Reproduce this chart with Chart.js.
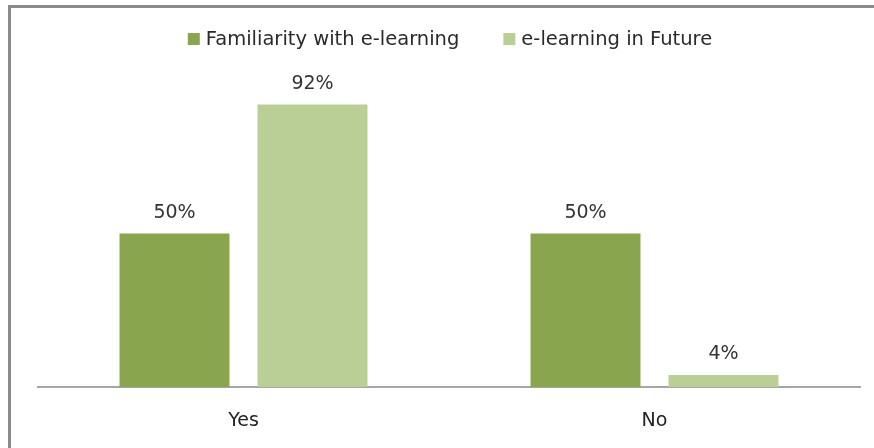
<!DOCTYPE html>
<html lang="en">

<head>
    <meta charset="UTF-8">
    <script src="https://cdn.jsdelivr.net/npm/chart.js"></script>
    <title>e-learning</title>
    <style>
        body { margin: 0; background: #fff; }
        #frame {
            position: absolute; left: 8px; top: 5px; width: 900px; height: 460px;
            border-left: 3px solid #8a8a8a; border-top: 3px solid #8a8a8a;
        }
        #wrap { position: absolute; left: 0; top: 0; width: 874px; height: 448px; }
    </style>
</head>

<body>
    <div id="frame"></div>
    <div id="wrap">
        <canvas id="grafico"></canvas>
    </div>
</body>

</html>
<script>
    const categorias = ['Yes', 'No'];
    const familiaridade = [50, 50];
    const futuro = [92, 4];

    // writes the value above each bar
    const rotulos = {
        id: 'rotulos',
        afterDatasetsDraw(chart) {
            const ctx = chart.ctx;
            ctx.save();
            ctx.font = '19px "DejaVu Sans"';
            ctx.fillStyle = '#333';
            ctx.textAlign = 'center';
            ctx.textBaseline = 'middle';
            chart.data.datasets.forEach(function (ds, i) {
                chart.getDatasetMeta(i).data.forEach(function (bar, j) {
                    ctx.fillText(ds.data[j] + '%', bar.x, bar.y - 21);
                });
            });
            ctx.restore();
        }
    };

    // legend drawn by hand so the spacing matches the original
    const legenda = {
        id: 'legenda',
        afterDraw(chart) {
            const ctx = chart.ctx;
            const caixa = 12, folga = 6, entre = 44;
            ctx.save();
            ctx.font = '19.5px "DejaVu Sans"';
            ctx.textBaseline = 'middle';
            ctx.textAlign = 'left';
            const larguras = chart.data.datasets.map(ds => caixa + folga + ctx.measureText(ds.label).width);
            const total = larguras.reduce((a, b) => a + b, 0) + entre * (larguras.length - 1);
            let x = (chart.chartArea.left + chart.chartArea.right) / 2 + 1 - total / 2;
            const y = 39;
            chart.data.datasets.forEach(function (ds, i) {
                ctx.fillStyle = ds.backgroundColor;
                ctx.fillRect(x, y - caixa / 2, caixa, caixa);
                ctx.fillStyle = '#2a2a2a';
                ctx.fillText(ds.label, x + caixa + folga, y + 1);
                x += larguras[i] + entre;
            });
            ctx.restore();
        }
    };

    new Chart(document.getElementById('grafico'), {
        type: 'bar',
        data: {
            labels: categorias,
            datasets: [{
                label: 'Familiarity with e-learning',
                data: familiaridade,
                backgroundColor: '#89a54e'
            }, {
                label: 'e-learning in Future',
                data: futuro,
                backgroundColor: '#b9cf96'
            }]
        },
        options: {
            responsive: true,
            maintainAspectRatio: false,
            animation: false,
            categoryPercentage: 0.6715,
            barPercentage: 0.797,
            layout: { padding: { left: 38, right: 14, top: 80, bottom: 2 } },
            plugins: {
                tooltip: { enabled: false },
                legend: { display: false }
            },
            scales: {
                x: {
                    grid: { display: false },
                    border: { color: '#a6a6a6', width: 2 },
                    ticks: { color: '#222', padding: 14, font: { family: 'DejaVu Sans', size: 19 } }
                },
                y: { display: false, min: 0, max: 100 }
            }
        },
        plugins: [rotulos, legenda]
    });
</script>
